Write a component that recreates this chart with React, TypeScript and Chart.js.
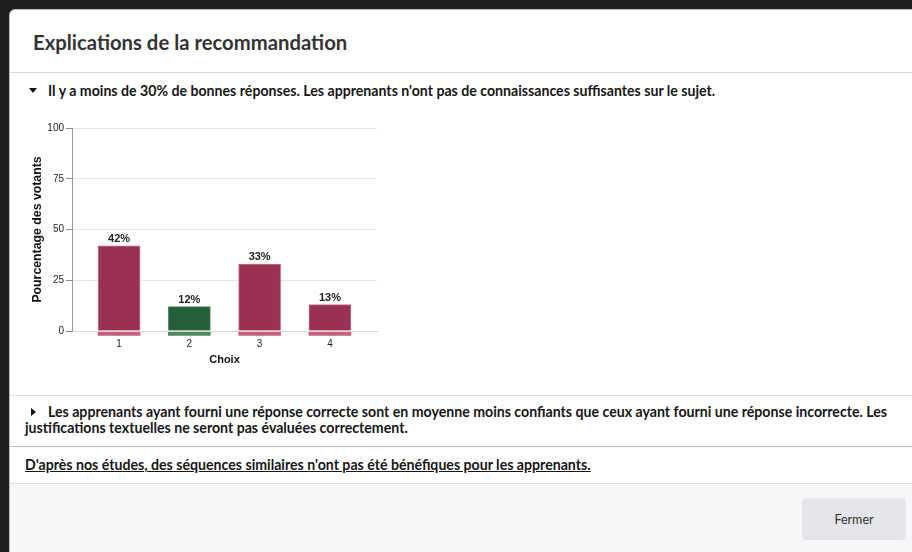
import React, { useEffect, useRef } from "react";
import { Chart, registerables } from "chart.js";

Chart.register(...registerables);

// ---- data ----
const choiceLabels = ["1", "2", "3", "4"];
const choicePositions = [1, 2, 3, 4];
const votePercents = [42, 12, 33, 13];
const correctChoice = [false, true, false, false];
const stripRange = [-0.7, -2.2];
const yTickValues = [0, 25, 50, 75, 100];

const wrongColor = "#9b3152";
const rightColor = "#265f37";
const wrongStrip = "#c4607e";
const rightStrip = "#4d8b5f";

const chartFont = "'Liberation Sans', Arial, Helvetica, sans-serif";

const valueLabels = {
  id: "valueLabels",
  afterDatasetsDraw(chart: any) {
    const ctx = chart.ctx;
    const meta = chart.getDatasetMeta(0);
    ctx.save();
    ctx.font = `bold 11px ${chartFont}`;
    ctx.fillStyle = "#222";
    ctx.textAlign = "center";
    ctx.textBaseline = "alphabetic";
    meta.data.forEach((el: any, i: number) => {
      ctx.fillText(votePercents[i] + "%", el.x, el.y - 4);
    });
    ctx.restore();
  },
};

function VoteChart() {
  const ref = useRef<HTMLCanvasElement | null>(null);
  useEffect(() => {
    if (!ref.current) return;
    const chart = new Chart(ref.current, {
      type: "bar",
      data: {
        datasets: [
          {
            data: choicePositions.map((x, i) => ({ x, y: votePercents[i] })),
            backgroundColor: correctChoice.map((c) => (c ? rightColor : wrongColor)),
            borderColor: correctChoice.map((c) => (c ? "#4f8060" : "#c3738b")),
            borderWidth: 1,
            barThickness: 42,
            grouped: false,
          } as any,
          {
            data: choicePositions.map((x) => ({ x, y: [stripRange[0], stripRange[1]] })),
            backgroundColor: correctChoice.map((c) => (c ? rightStrip : wrongStrip)),
            borderWidth: 0,
            barThickness: 42,
            grouped: false,
            clip: false,
          } as any,
        ],
      },
      options: {
        animation: false,
        responsive: true,
        maintainAspectRatio: false,
        layout: { padding: { top: 12, right: 23, bottom: 0, left: 0 } },
        plugins: { legend: { display: false }, tooltip: { enabled: false } },
        scales: {
          x: {
            type: "linear",
            min: 0.33,
            max: 4.67,
            offset: false,
            z: 1,
            afterBuildTicks: (axis: any) => {
              axis.ticks = choicePositions.map((v) => ({ value: v }));
            },
            afterFit: (axis: any) => {
              axis.height = 49;
            },
            ticks: {
              callback: (_v: any, i: number) => choiceLabels[i],
              font: { family: chartFont, size: 10 },
              color: "#222",
              padding: 2,
              maxRotation: 0,
            },
            grid: { offset: false, drawOnChartArea: false, tickLength: 5, tickColor: "#8a8a8a" },
            border: { color: "#d4d4d4" },
            title: {
              display: true,
              text: "Choix",
              font: { family: chartFont, size: 11, weight: "bold" },
              color: "#111",
              padding: { top: 0, bottom: 13 },
            },
          },
          y: {
            min: 0,
            max: 100,
            afterBuildTicks: (axis: any) => {
              axis.ticks = yTickValues.map((v) => ({ value: v }));
            },
            afterFit: (axis: any) => {
              axis.width = 52;
            },
            ticks: {
              font: { family: chartFont, size: 10 },
              color: "#222",
              padding: 2,
            },
            grid: { color: "#e4e4e4", tickLength: 6, tickColor: "#8a8a8a" },
            border: { color: "#9a9a9a" },
            title: {
              display: true,
              text: "Pourcentage des votants",
              font: { family: chartFont, size: 12.3, weight: "bold" },
              color: "#111",
              padding: { top: 10.5, bottom: 0 },
            },
          },
        },
      } as any,
      plugins: [valueLabels],
    });
    return () => chart.destroy();
  }, []);
  return <canvas ref={ref} />;
}

const abs = (s: React.CSSProperties): React.CSSProperties => ({ position: "absolute", ...s });

export default function App() {
  const textStyle: React.CSSProperties = {
    fontSize: 14.15,
    fontWeight: 700,
    lineHeight: "16px",
    color: "#161616",
    whiteSpace: "nowrap",
  };
  return (
    <div
      style={{
        position: "fixed",
        inset: 0,
        background: "#1e1e1e",
        overflow: "hidden",
        fontFamily: "Lato, 'Open Sans', sans-serif",
      }}
    >
      {/* modal */}
      <div
        style={abs({
          left: 9,
          top: 9,
          width: 940,
          height: 600,
          background: "#fff",
          borderTopLeftRadius: 6,
          border: "1px solid #b8b8b8",
        })}
      />
      {/* header */}
      <div style={abs({ left: 33, top: 30, fontSize: 20.3, fontWeight: 700, lineHeight: "24px", color: "#333", whiteSpace: "nowrap" })}>
        Explications de la recommandation
      </div>
      <div style={abs({ left: 10, right: 0, top: 72, height: 1, background: "#d8d8d8" })} />

      {/* section 1 */}
      <div
        style={abs({
          left: 29,
          top: 88,
          width: 0,
          height: 0,
          borderLeft: "4px solid transparent",
          borderRight: "4px solid transparent",
          borderTop: "5px solid #111",
        })}
      />
      <div style={abs({ left: 48, top: 83, ...textStyle })}>
        Il y a moins de 30% de bonnes réponses. Les apprenants n'ont pas de connaissances suffisantes sur le sujet.
      </div>
      <div style={abs({ left: 20, top: 116, width: 380, height: 264 })}>
        <VoteChart />
      </div>
      <div style={abs({ left: 10, right: 0, top: 395, height: 1, background: "#e2e2e2" })} />

      {/* section 2 */}
      <div
        style={abs({
          left: 31,
          top: 408,
          width: 0,
          height: 0,
          borderTop: "4px solid transparent",
          borderBottom: "4px solid transparent",
          borderLeft: "5px solid #111",
        })}
      />
      <div style={abs({ left: 48, top: 404, ...textStyle })}>
        Les apprenants ayant fourni une réponse correcte sont en moyenne moins confiants que ceux ayant fourni une réponse incorrecte. Les
      </div>
      <div style={abs({ left: 25, top: 420, ...textStyle })}>
        justifications textuelles ne seront pas évaluées correctement.
      </div>
      <div style={abs({ left: 10, right: 0, top: 446, height: 1, background: "#bdbdbd" })} />

      {/* section 3 */}
      <div style={abs({ left: 25, top: 457, ...textStyle, textDecoration: "underline" })}>
        D'après nos études, des séquences similaires n'ont pas été bénéfiques pour les apprenants.
      </div>
      <div style={abs({ left: 10, right: 0, top: 483, height: 1, background: "#dedede" })} />

      {/* footer */}
      <div style={abs({ left: 10, right: 0, top: 484, bottom: 0, background: "#f6f7f9" })} />
      <div
        style={abs({
          left: 802,
          top: 498,
          width: 104,
          height: 42,
          background: "#e3e5e8",
          borderRadius: 4,
          display: "flex",
          alignItems: "center",
          justifyContent: "center",
          fontSize: 12.5,
          color: "#333",
        })}
      >
        Fermer
      </div>
    </div>
  );
}
